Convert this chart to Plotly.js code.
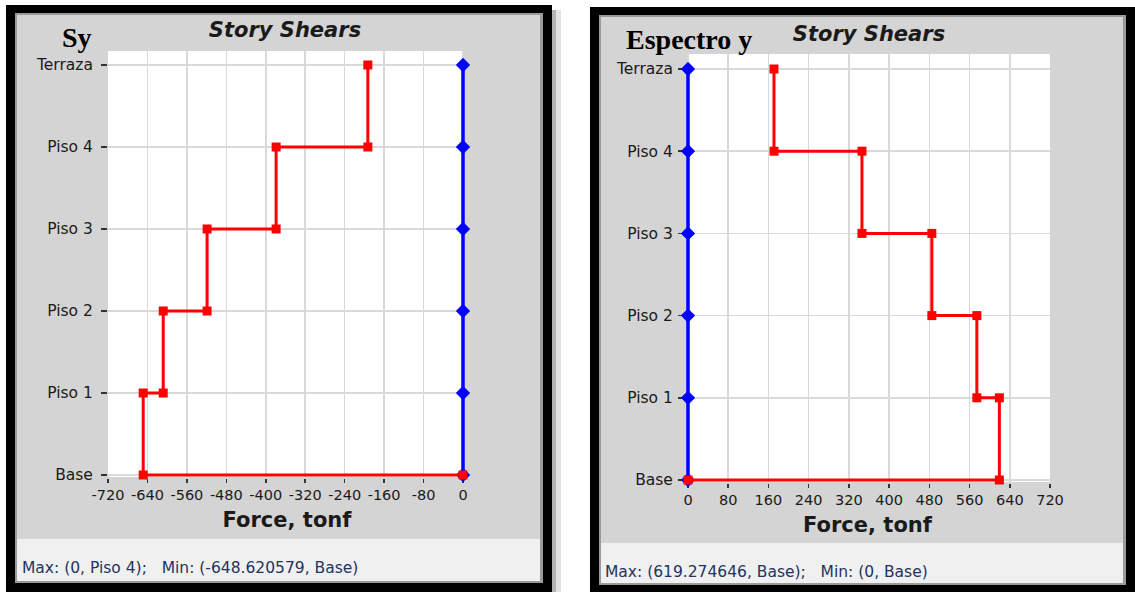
<!DOCTYPE html>
<html><head><meta charset="utf-8">
<script src="https://cdn.plot.ly/plotly-3.0.1.min.js"></script>
<style>
html,body{margin:0;padding:0;background:#fff;width:1135px;height:592px;overflow:hidden}
#sy,#ey{position:absolute;top:0;height:592px}
#sy{left:0;width:570px}
#ey{left:570px;width:565px}
</style></head>
<body><div id="sy"></div><div id="ey"></div>
<script>
// ---------------- data ----------------
const stories = ['Base', 'Piso 1', 'Piso 2', 'Piso 3', 'Piso 4', 'Terraza'];
// story shear (tonf) of the stories Piso 1 .. Terraza (red series)
const shearSy = [-648.620579, -608, -519, -379, -193];
const shearEy = [619.274646, 574.5, 485, 346, 171];
// other direction (blue series), value at each level Base .. Terraza
const otherSy = [0, 0, 0, 0, 0, 0];
const otherEy = [0, 0, 0, 0, 0, 0];
const xTicksSy = [-720, -640, -560, -480, -400, -320, -240, -160, -80, 0];
const xTickTextSy = ['-720', '-640', '-560', '-480', '-400', '-320', '-240', '-160', '-80', '0'];
const xTicksEy = [0, 80, 160, 240, 320, 400, 480, 560, 640, 720];
const xTickTextEy = ['0', '80', '160', '240', '320', '400', '480', '560', '640', '720'];
const chartTitle = 'Story Shears';
const axisTitle = 'Force, tonf';
const panelLabels = ['Sy', 'Espectro y'];
const statusTexts = ['Max: (0, Piso 4);\u00a0\u00a0\u00a0Min: (-648.620579, Base)',
                     'Max: (619.274646, Base);\u00a0\u00a0\u00a0Min: (0, Base)'];

// ---------------- helpers ----------------
function stepSeries(shear) {
  const x = [], y = [];
  for (let i = shear.length; i >= 1; i--) {
    x.push(shear[i - 1], shear[i - 1]);
    y.push(stories[i], stories[i - 1]);
  }
  x.push(0); y.push(stories[0]);
  return {x, y};
}

const H = 592;
const SANS = 'DejaVu Sans';
const PAD = 3; // px of breathing room so edge lines are not clipped

function rect(W, x0, y0, x1, y1, color) {
  return {type: 'rect', xref: 'paper', yref: 'paper', layer: 'below',
    x0: x0 / W, x1: x1 / W, y0: 1 - y1 / H, y1: 1 - y0 / H,
    line: {width: 0}, fillcolor: color};
}

function draw(id, cfg) {
  const W = cfg.W;
  const red = stepSeries(cfg.shear);
  const traces = [
    {type: 'scatter', mode: 'lines+markers', x: cfg.other, y: stories, cliponaxis: false,
     line: {color: '#0000ff', width: 3.5}, marker: {symbol: 'diamond', size: 11, color: '#0000ff'}},
    {type: 'scatter', mode: 'lines+markers', x: red.x, y: red.y, cliponaxis: false,
     line: {color: '#ff0000', width: 3}, marker: {symbol: 'square', size: 9, color: '#ff0000'}}
  ];
  const pxPerUnit = (cfg.x1 - cfg.x0) / (cfg.xrange[1] - cfg.xrange[0]);
  const padU = PAD / pxPerUnit;
  const xr = cfg.zeroRight ? [cfg.xrange[0], cfg.xrange[1] + padU] : [cfg.xrange[0] - padU, cfg.xrange[1]];
  const dl = cfg.zeroRight ? cfg.x0 : cfg.x0 - PAD;
  const dr = cfg.zeroRight ? cfg.x1 + PAD : cfg.x1;
  const f = cfg.frame;
  const shapes = [
    rect(W, f.x0, f.y0, f.x1, H, '#000000'),
    rect(W, f.x0 + 9, f.y0 + 8, f.x1 - 9, f.yb, '#9a9a9a'),
    rect(W, f.x0 + 11, f.y0 + 10, f.x1 - 12, f.yb - 2, '#d4d4d4'),
    rect(W, f.x0 + 11, f.status, f.x1 - 12, f.yb - 2, '#f0f0f0'),
    rect(W, cfg.zeroRight ? cfg.x0 : cfg.x0 - 1, cfg.pt, cfg.zeroRight ? cfg.x1 + 1 : cfg.x1, cfg.pb + 2, '#ffffff'),
    {type: 'line', xref: 'x', yref: 'y domain', x0: 0, x1: 0, y0: 0, y1: 1,
     line: {color: '#ff0000', width: 1.2}, layer: 'below'},
    {type: 'line', xref: 'x domain', yref: 'y', x0: 0, x1: 1, y0: 0, y1: 0,
     line: {color: '#ff0000', width: 1.2}, layer: 'below'}
  ];
  if (cfg.shadow) {
    shapes.splice(1, 0, rect(W, f.x1, f.y0 + 5, f.x1 + 4, H, '#b4b4b4'),
                        rect(W, f.x1 + 4, f.y0 + 5, f.x1 + 9, H, '#e2e2e2'));
  }
  const layout = {
    width: W, height: H, margin: {l: 0, r: 0, t: 0, b: 0},
    paper_bgcolor: 'rgba(0,0,0,0)', plot_bgcolor: 'rgba(0,0,0,0)',
    showlegend: false,
    title: {text: chartTitle, xref: 'container', yref: 'container', x: cfg.titleX / W, xanchor: 'center',
            y: 1 - cfg.titleY / H, yanchor: 'middle',
            font: {family: SANS, size: 21, weight: 'bold', style: 'italic', color: '#1a1a1a'}},
    xaxis: {domain: [dl / W, dr / W], range: xr, tickvals: cfg.xticks, ticktext: cfg.xtext,
            showgrid: true, gridcolor: '#d9d9d9', gridwidth: 1.5, zeroline: false, showline: false,
            ticks: 'outside', ticklen: 4, tickwidth: 1.5, tickcolor: '#333333',
            tickfont: {family: SANS, size: 14.5, color: '#1a1a1a'}, ticklabelstandoff: 0,
            title: {text: axisTitle, standoff: 9, font: {family: SANS, size: 21, weight: 'bold', color: '#1a1a1a'}},
            layer: 'below traces', fixedrange: true},
    yaxis: {domain: [1 - (cfg.pb + PAD) / H, 1 - cfg.pt / H], type: 'category', categoryorder: 'array',
            categoryarray: stories, range: [-PAD / cfg.rowPx, (cfg.pb - cfg.pt) / cfg.rowPx],
            showgrid: true, gridcolor: '#d9d9d9', gridwidth: 1.5, zeroline: false, showline: false,
            ticks: 'outside', ticklen: 6, tickwidth: 1.5, tickcolor: '#333333',
            tickfont: {family: SANS, size: 15.5, color: '#1a1a1a'}, ticklabelstandoff: cfg.ystand,
            layer: 'below traces', fixedrange: true},
    shapes: shapes,
    annotations: [
      {xref: 'paper', yref: 'paper', x: cfg.labX / W, y: 1 - cfg.labY / H, xanchor: 'center', yanchor: 'middle',
       text: '<b>' + cfg.label + '</b>', showarrow: false,
       font: {family: 'Liberation Serif', size: 28, color: '#000000'}},
      {xref: 'paper', yref: 'paper', x: cfg.stX / W, y: 1 - cfg.stY / H, xanchor: 'left', yanchor: 'middle',
       text: cfg.status, showarrow: false,
       font: {family: SANS, size: 15.5, color: '#25335e'}}
    ]
  };
  Plotly.newPlot(id, traces, layout, {staticPlot: true, displayModeBar: false});
}

draw('sy', {
  W: 570, shear: shearSy, other: otherSy, xrange: [-720, 0], xticks: xTicksSy, xtext: xTickTextSy,
  x0: 108, x1: 463, zeroRight: true, pt: 51, pb: 475, rowPx: 82,
  frame: {x0: 6, y0: 5, x1: 552, yb: 583, status: 539}, shadow: true,
  titleX: 285, titleY: 30, label: panelLabels[0], labX: 77, labY: 38, status: statusTexts[0], stX: 20, stY: 568,
  ystand: 5
});
draw('ey', {
  W: 565, shear: shearEy, other: otherEy, xrange: [0, 720], xticks: xTicksEy, xtext: xTickTextEy,
  x0: 118, x1: 480, zeroRight: false, pt: 54, pb: 480, rowPx: 82.2,
  frame: {x0: 20, y0: 7, x1: 565, yb: 585, status: 543}, shadow: false,
  titleX: 299, titleY: 34, label: panelLabels[1], labX: 119, labY: 40, status: statusTexts[1], stX: 33, stY: 572,
  ystand: 2
});
</script>
</body></html>
